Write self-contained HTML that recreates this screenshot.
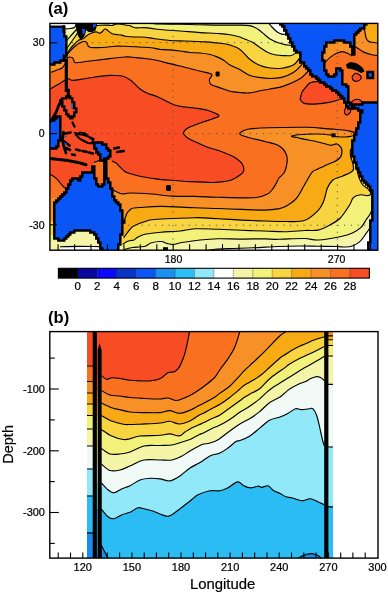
<!DOCTYPE html><html><head><meta charset="utf-8"><style>html,body{margin:0;padding:0;background:#fff;}svg{display:block;will-change:transform;}</style></head><body>
<svg width="388" height="592" viewBox="0 0 388 592">
<rect width="388" height="592" fill="#fff"/>
<defs><clipPath id="ca"><rect x="49.9" y="23.4" width="327.90000000000003" height="226.79999999999998"/></clipPath>
<clipPath id="cb"><rect x="87" y="331.6" width="246" height="226.5"/></clipPath></defs>
<g clip-path="url(#ca)">
<rect x="40" y="15" width="350" height="245" fill="#f5f5aa"/>
<path d="M266 15L268.5 23.2L268.5 23.2C269.1 23.8 270.8 25.7 272 27C273.2 28.3 274.7 29.9 276 31C277.3 32.1 278.7 33 280 33.6C281.3 34.2 282.8 34.5 284 34.4C285.2 34.3 286.5 33.2 287 33L292 30L292 15Z" fill="#ffffff"/>
<path d="M63 15L63 29L66 28.8C66.7 28.8 68.5 28.8 70 28.5C71.5 28.2 73.6 28.1 74.7 27.2C75.8 26.3 76.2 23.7 76.5 23L78 15Z" fill="#ffffff"/>
<path d="M205 251C206.7 250.7 210.9 249.7 215 249.3C219.1 248.9 223.5 248.8 229.8 248.6C236.1 248.3 245 248.2 253 247.8C261 247.5 270.2 246.8 278 246.5C285.8 246.2 293.3 246 300 246C306.7 246 311.9 246.2 318 246.3C324.1 246.4 332.1 246.4 336.6 246.5C341.1 246.6 342.4 247.1 345 247C347.6 246.9 349.9 246.9 352.4 246C354.9 245.1 357.5 243.8 359.8 241.7C362.1 239.6 364.4 235.8 366 233.6C367.6 231.4 368.7 229.8 369.5 228.5C370.3 227.2 370.8 226.4 371 226L380 227L380 256L205 256Z" fill="#ffffff"/>
<path d="M60 246.8C63.3 246.7 73.3 246.4 80 246.4C86.7 246.4 96.7 246.6 100 246.6L101 256L59 256Z" fill="#ffffff"/>
<path d="M45 50L58 50L66.5 41C66.8 40.7 67.1 40.1 68 39C68.9 37.9 70.7 36 72 34.5C73.3 33 74.9 31.2 76 30C77.1 28.8 77.8 28 78.5 27C79.2 26 79.6 25 80 24C80.4 23 80.8 21.5 81 21L82 15L150 15L150 23.2C151.7 23.3 155 23.8 160 24C165 24.2 173.3 24.2 180 24.3C186.7 24.4 193.3 24.7 200 24.8C206.7 24.9 213.3 25.1 220 25.1C226.7 25.2 235.1 25 240 25.1C244.9 25.2 246.9 25.2 249.4 25.6C251.9 26 253.4 26.8 255 27.5C256.6 28.2 257.4 28.8 259.1 30C260.8 31.2 263.2 33.5 265 35C266.8 36.5 267.6 37.6 270 39C272.4 40.4 276.5 42.2 279.7 43.2C282.9 44.2 287.2 45.1 289.4 45.3C291.6 45.5 292.4 44.6 293 44.5L300 40L310 15L386 15L386 205L372.5 208C372.1 209.1 371.1 212.3 370 214.3C368.9 216.3 367.5 217.8 366 220C364.5 222.2 363.3 225.2 361 227.4C358.7 229.6 355.9 231.4 352.4 233C348.9 234.6 345.7 235.5 340 236.7C334.3 237.9 323.9 239.7 318 240C312.1 240.3 311 238.6 304.3 238.5C297.6 238.4 284.6 239.2 278 239.3C271.4 239.4 270.7 238.8 264.6 238.8C258.5 238.8 249.1 239.1 241.4 239.1C233.7 239.1 225.1 238.7 218.2 238.8C211.3 239 206.1 239.4 200 240C193.9 240.6 186.3 241.8 181.9 242.5C177.5 243.2 176 244.2 173.6 244.4C171.2 244.6 169.5 244.1 167.4 243.6C165.3 243.1 163.9 241.6 161.2 241.5C158.4 241.4 153.4 242.2 150.9 243C148.4 243.8 147.7 245.4 146 246C144.3 246.6 142.9 246.6 140.6 246.8C138.3 247.1 134.8 247.1 132.4 247.5C130 247.9 127.4 248.5 126 249C124.6 249.5 124.3 250.2 124 250.5L118 240L110 228L62 228L58 241L45 241Z" fill="#f2f27a"/>
<path d="M45 60L66.5 49C66.8 48.5 67.6 47.3 68.5 46C69.4 44.7 70.8 42.7 72 41C73.2 39.3 74.4 37.6 75.5 36C76.6 34.4 77.6 32.8 78.7 31.5C79.8 30.2 80.8 29.2 82 28.5C83.2 27.8 84.3 27.3 86 27C87.7 26.7 90.3 26.7 92 26.5C93.7 26.3 94.7 26 96 25.8C97.3 25.6 98 25.3 100 25.2C102 25.1 105.8 25.1 107.7 25.1C109.6 25.2 110.3 25.6 111.6 25.5C112.9 25.4 114.2 24.6 115.5 24.3C116.8 24 117.7 23.8 119.3 23.9C120.9 24 123.2 24.7 125 25C126.8 25.3 128.3 25.3 130 25.8C131.7 26.3 132.5 27.5 135 27.8C137.5 28.1 141.7 27.4 145 27.6C148.3 27.8 151.7 28.6 155 29C158.3 29.4 160.8 29.7 165 30C169.2 30.3 174.2 30.6 180 31C185.8 31.4 193.3 32.2 200 32.6C206.7 33 215 33.2 220 33.6C225 34 227 34.3 230 34.8C233 35.3 235.7 35.9 238 36.5C240.3 37.1 241.7 37.8 244 38.7C246.3 39.6 249.3 40.5 252 42C254.7 43.5 257.3 45.8 260 47.5C262.7 49.2 265.3 51.2 268 52.5C270.7 53.8 273.3 54.5 276 55C278.7 55.5 281.4 55.5 284 55.6C286.6 55.7 289.5 55.9 291.4 55.5C293.3 55.1 294.8 53.4 295.5 53L300 45L312 15L386 15L386 150L360 150L354.5 158C354.9 159.9 356.3 166.5 357 169.7C357.7 172.9 358 174.7 358.9 177.2C359.8 179.7 361.1 182.6 362.6 184.6C364.2 186.6 366.8 187.6 368.2 189.2C369.6 190.8 371.2 192.8 371 193.9C370.8 195 368.9 195.5 367.2 195.7C365.5 195.8 363 194.5 360.7 194.8C358.4 195.1 355.1 195.9 353.3 197.6C351.5 199.3 351.8 201.6 349.6 205C347.4 208.4 343.7 214.6 340.3 218C336.9 221.4 332.8 223.5 329.1 225.5C325.4 227.5 322.1 229.3 318 230.1C313.9 230.9 309.8 230.2 304.3 230.5C298.8 230.8 291.6 231.6 285 231.7C278.4 231.8 271.9 231.2 264.6 231C257.3 230.8 249.1 230.6 241.4 230.3C233.7 230 225.9 229.6 218.2 229.3C210.5 229.1 201.4 228.5 195 228.8C188.6 229.1 185.6 230.4 180 231C174.4 231.6 166.9 231.7 161.2 232.2C155.5 232.7 149.9 233.2 146 234C142.1 234.8 140 236 138 237C136 238 135.2 239.4 134 240C132.8 240.6 132.1 240.2 131 240.5C129.9 240.8 128.7 240.9 127.3 241.5C125.9 242.1 123.4 243.8 122.6 244.3L110 225L60 225L55 235L45 235Z" fill="#f8d440"/>
<path d="M45 62L66.5 56C66.9 55.1 67.8 52.4 69 50.5C70.2 48.6 72.3 46.2 74 44.5C75.7 42.8 77.4 41 79 40C80.6 39 82.2 39.2 83.5 38.5C84.8 37.8 85.7 36.4 87 35.5C88.3 34.6 90.1 33.6 91.6 33C93.1 32.4 94.7 31.8 96 31.8C97.3 31.9 98.7 33.3 99.7 33.3C100.8 33.2 101.5 32.2 102.3 31.5C103.1 30.8 103.8 29.6 104.5 29.2C105.2 28.8 105.7 29 106.3 29.3C106.9 29.6 107.1 30.1 108 30.8C108.9 31.5 110.3 32.8 111.6 33.4C112.8 34 113.8 34.1 115.5 34.4C117.2 34.7 120 34.8 121.7 35.1C123.4 35.4 123.3 36 125.5 36.3C127.7 36.6 131.8 36.9 135 37C138.2 37.1 141.7 36.9 145 37.2C148.3 37.5 150.8 38.2 155 38.7C159.2 39.2 165 40.1 170 40.5C175 40.9 179.2 40.8 185 41C190.8 41.2 199.2 41.5 205 41.9C210.8 42.3 215.8 42.7 220 43.2C224.2 43.7 226.7 44 230 45C233.3 46 236.8 47.2 240 49.5C243.2 51.8 246.2 56.4 249.4 59C252.6 61.6 255.6 63.5 259 65C262.4 66.5 266.2 67.5 270 68C273.8 68.5 277.8 68.7 281.7 68.2C285.6 67.7 290.4 66.6 293.3 65C296.2 63.4 298.3 59.6 299.3 58.5L305 50L316 15L386 15L386 146L354.5 146C353.8 146.7 351.1 148.1 350.5 149.9C349.9 151.8 350.4 154.9 350.8 157.1C351.2 159.3 352.4 161.2 352.8 163.3C353.2 165.4 353.8 168 353.4 169.5C353 171 352.4 171.4 350.5 172.5C348.6 173.6 345.1 174.9 342.2 176.2C339.3 177.4 335.4 178 332.9 180C330.4 182 328.9 184.8 327.3 188.3C325.8 191.9 325.2 197.6 323.6 201.3C322.1 205 321.2 207.4 318 210.6C314.8 213.8 309.8 218.7 304.3 220.5C298.8 222.3 291.6 221.4 285 221.5C278.4 221.6 271.9 221.2 264.6 221C257.3 220.8 249.1 220.5 241.4 220.1C233.7 219.7 225.9 219.1 218.2 218.7C210.5 218.3 204.4 217.6 195 217.7C185.6 217.8 169 218.6 161.5 219C154 219.4 152.6 219.6 150 220C147.4 220.4 148 220.6 146 221.3C144 222 140 223.2 138 224C136 224.8 135 225.6 134 226.1C133 226.6 132.8 226.4 132 227.1C131.2 227.8 130.1 229.2 129.2 230.3C128.3 231.5 127.3 232.8 126.4 234C125.5 235.2 124.1 237.2 123.6 237.8L110 215L60 215L55 222L45 222Z" fill="#f8aa14"/>
<path d="M45 64L62.5 60C63.1 59.3 65.1 57.1 66 56C66.9 54.9 67 54.6 68 53.4C69 52.2 70.6 50.4 72 49C73.4 47.6 75 46.2 76.3 45.2C77.6 44.2 78.8 43.6 80 43C81.2 42.4 82.4 41.6 83.5 41.5C84.6 41.4 85.8 41.4 86.6 42.1C87.4 42.9 87.5 45.1 88.2 46C88.9 46.9 89.1 47.2 90.7 47.5C92.3 47.8 95.5 47.6 98 47.6C100.5 47.6 103.2 47.5 106 47.3C108.8 47.1 111.8 46.4 115 46.2C118.2 46 121.7 46.2 125 46.3C128.3 46.4 131.7 46.6 135 46.8C138.3 47 141.7 47 145 47.3C148.3 47.6 152.5 48 155 48.4C157.5 48.8 157.5 49.1 160 49.4C162.5 49.6 166.7 49.6 170 49.9C173.3 50.2 176.7 50.6 180 51C183.3 51.4 186.7 52.2 190 52.5C193.3 52.8 196.7 52.7 200 53C203.3 53.3 207.3 53.9 210 54.5C212.7 55.1 214.1 55.6 216.4 56.6C218.8 57.6 221.8 59.1 224.1 60.5C226.4 61.9 227.4 63.5 230 65C232.6 66.5 236.5 67.9 239.7 69.6C242.9 71.3 246.2 73.9 249.4 75.2C252.6 76.5 255.7 76.9 259.1 77.4C262.5 78 266.2 78.5 270 78.5C273.8 78.5 277.8 78.4 281.7 77.4C285.6 76.4 290.1 74.5 293.3 72.5C296.5 70.5 299.5 67.1 301 65.5C302.5 63.9 302.2 63.4 302.5 63L315 40L330 35L357 28L360 26C360.7 26.7 363.4 28.1 364.4 30C365.4 31.9 365.2 35.8 366 37.7C366.8 39.6 367 40.7 369 41.6C371 42.5 376.5 42.9 378 43.1L386 43L386 134.2L357 135.2C356.2 135.3 354 135.7 352 136C350 136.3 347.7 136.9 345 137C342.3 137.1 338.5 136.8 336 136.5C333.5 136.2 333 135.4 330 135C327 134.6 321.8 134.1 318 134C314.2 133.9 310.6 134.1 307.3 134.2C304 134.3 300.5 134.5 298 134.8C295.5 135.1 293.5 135.5 292.5 135.8C291.5 136.1 291.1 136.3 292 136.6C292.9 136.9 295.8 137.3 298 137.8C300.2 138.3 302.2 138.8 305 139.4C307.8 140 311.7 140.5 315 141.2C318.3 141.9 322.3 143.1 325 143.8C327.7 144.5 329.3 145.3 331.2 145.3C333.1 145.3 334.8 143.7 336.3 143.9C337.9 144.2 339.6 145.6 340.5 146.8C341.4 148 342 149.2 342 150.9C342 152.6 341.6 155.4 340.5 157.1C339.4 158.8 337.8 159.8 335.3 161.2C332.8 162.6 328.2 164.1 325.3 165.4C322.4 166.7 320.2 167.9 318 169C315.8 170.1 314.5 169.4 312.2 172.1C309.9 174.8 306.9 180.8 304.3 185.2C301.7 189.6 299.5 194.8 296.4 198.3C293.3 201.8 289 204.4 285.9 206.2C282.8 208 281.6 208.2 278 208.9C274.4 209.6 270.7 210 264.6 210.1C258.5 210.2 249.1 209.7 241.4 209.4C233.7 209.1 225.9 208.8 218.2 208.5C210.5 208.2 204.4 208.2 195 207.8C185.6 207.5 170.7 206.5 161.5 206.4C152.3 206.3 144.6 207.2 140 207.5C135.4 207.8 135.5 207.8 134 208C132.5 208.2 132.1 208.2 131 209C129.9 209.8 128.2 211.3 127.3 212.7C126.4 214.1 125.9 216.1 125.4 217.3C124.9 218.5 124.7 219.6 124.5 220L110 205L60 205L55 220L45 220Z" fill="#f89028"/>
<path d="M45 73L51 72.3C51.9 72 54.5 71 56.4 70.2C58.3 69.4 60.8 69.1 62.4 67.7C64 66.3 65 63.7 66 62C67 60.3 67 58.2 68.1 57.5C69.2 56.8 71.7 57.3 72.7 58C73.7 58.7 73.6 60.8 74.2 61.6C74.8 62.4 73.7 62.8 76.3 62.7C78.9 62.6 85 61.6 90 61C95 60.4 100.2 59.8 106 59.1C111.8 58.4 120.2 57.3 125 57C129.8 56.7 131.7 57.2 135 57.5C138.3 57.8 141.7 58.1 145 58.5C148.3 58.9 150.8 59.1 155 60C159.2 60.9 164.9 62.4 170 63.6C175.1 64.8 180.3 66.2 185.5 67.5C190.7 68.8 196.5 70.1 200.9 71.3C205.3 72.5 210.4 73 211.8 74.4C213.2 75.8 209.5 78.1 209.4 79.8C209.3 81.5 209.3 83.2 211 84.5C212.7 85.8 216.3 86.5 219.5 87.6C222.7 88.7 226.6 90.4 230 91.2C233.4 92 236.8 92.2 240 92.5C243.2 92.8 246.2 93.2 249.4 92.9C252.6 92.7 255.7 91.7 259.1 91C262.5 90.3 265.9 89.8 270 89C274.1 88.2 278.8 87.7 283.6 86.1C288.5 84.5 295.2 81.6 299.1 79.3C303 77 305.3 73.9 306.9 72.5C308.5 71.1 308.2 71.2 308.5 71L318 70L323 65C323.3 64.6 323.8 63.8 325 62.5C326.2 61.2 328.5 58.6 330.4 57.1C332.3 55.6 334.6 54.1 336.6 53.2C338.7 52.3 340.6 51.5 342.7 51.6C344.8 51.7 347.3 53.3 348.9 54C350.4 54.7 351.5 55.7 352 56L353 50L353.6 45.5C354.4 46 356.4 47.5 358.2 48.6C360 49.8 362.1 51.4 364.4 52.4C366.7 53.4 369.8 54.2 372.1 54.7C374.4 55.2 377 55.4 378 55.5L386 56L386 132.8L357 132.8C356.3 132.7 354.7 132.3 352.8 131.9C350.9 131.5 348.5 130.7 345.6 130.3C342.7 129.9 338.7 129.6 335.3 129.3C331.9 129 329.7 128.9 325 128.6C320.3 128.3 316.7 127.4 307.3 127.3C297.9 127.2 278.4 127.5 268.7 127.8C259 128.1 253.8 128.4 249.3 129C244.9 129.6 243.6 130.7 242 131.5C240.4 132.3 239.7 132.9 239.7 133.6C239.7 134.3 239.8 134.7 242 135.5C244.2 136.3 249.4 137.7 253.2 138.7C257 139.7 261.1 140.5 265 141.5C268.9 142.5 273.4 143.2 276.4 144.5C279.4 145.8 281.3 147.2 283 149C284.7 150.8 285.8 152.9 286.5 155C287.2 157.1 287.5 158.7 287.2 161.5C286.9 164.3 286 169.3 284.6 172.1C283.2 174.8 280.4 176.1 279 178C277.6 179.9 277.2 181.8 276 183.8C274.8 185.8 273.4 188.3 272 190C270.6 191.7 269.9 192.9 267.5 194.1C265.1 195.3 262 196.7 257.6 197.3C253.3 197.9 248 197.8 241.4 197.8C234.8 197.8 225.9 197.5 218.2 197.3C210.5 197.1 202.7 196.6 195 196.4C187.3 196.2 179.2 196.5 171.9 196.1C164.6 195.7 158.1 194.5 151.2 194C144.3 193.5 135.4 193 130.6 193C125.8 193 124.8 194.2 122.4 194C120 193.8 117.6 192.2 116 191.5C114.4 190.8 113.5 190.2 113 190L105 190L60 198L55 198L45 198Z" fill="#f87020"/>
<path d="M45 90L50.5 89C51.2 88.5 53.1 87.3 54.8 86.3C56.5 85.3 59.3 83.8 60.7 82.9C62.1 82.1 61.9 81.9 63.2 81.2C64.5 80.5 66.8 79 68.3 78.8C69.8 78.6 69.8 80.2 72 80.3C74.2 80.4 77.7 79.8 81.5 79.2C85.3 78.7 90.9 77.6 95 77C99.1 76.4 102.7 75.8 106 75.6C109.3 75.3 112.2 75.4 115 75.5C117.8 75.6 120.3 75.5 123 76.3C125.7 77.1 128.2 78.4 131 80.5C133.8 82.6 137.2 86.8 140 89C142.8 91.2 145 92.2 148 93.5C151 94.8 153.7 95.1 158 97C162.3 98.9 169.1 103.1 173.6 104.8C178.1 106.5 181.1 106.4 185 107C188.9 107.6 193.2 107.8 197 108.4C200.8 109 204.9 109.7 208 110.5C211.1 111.3 213.6 112.4 215.4 113.3C217.2 114.2 219.4 115.1 218.8 116.1C218.2 117 214.5 118 212 119C209.5 120 206.5 120.8 203.7 121.8C200.9 122.8 197.8 123.9 195 125C192.2 126.1 188.9 127.1 187 128.5C185.1 129.9 183.3 131.9 183.6 133.6C183.9 135.3 186.4 137.1 188.6 138.6C190.8 140.1 193.9 141.1 197 142.5C200.1 143.9 203.4 145.7 207 147C210.6 148.3 214.6 149.1 218.5 150.5C222.4 151.9 227.4 153.9 230.5 155.3C233.6 156.7 235.1 157.6 237 159C238.9 160.4 241 161.8 242.2 163.7C243.3 165.6 244.2 168.6 243.9 170.4C243.6 172.2 242.5 173.2 240.4 174.8C238.3 176.4 234.8 178.8 231.4 180C228 181.2 223.4 181.6 220 182C216.6 182.4 215.8 182.6 210.8 182.5C205.8 182.4 196 181.9 190 181.6C184 181.3 179.8 180.8 175 180.5C170.2 180.2 165.7 180 161.5 179.6C157.3 179.2 153.4 178.5 150 178C146.6 177.5 144.2 177.2 140.9 176.5C137.6 175.8 132.8 174.4 130 173.5C127.2 172.6 126.2 172.6 124.4 171.3C122.6 170.1 120.4 167.4 119 166C117.6 164.6 117.4 163.9 116.2 163.1C115 162.3 112.7 161.3 112 161L107 159L104.5 161L99 160.5L94 162.5L93 170L85 180L66 189L62.3 185.5L57.2 179.3L52 175.2L45 174.5Z" fill="#f84c24"/>
<path d="M300.1 99.3C300.4 98.1 301.1 94.1 302.1 92.1C303.1 90 304.6 88.5 306 87C307.4 85.5 308.3 83.7 310.4 82.8C312.5 81.9 315.5 81.3 318.6 81.8C321.7 82.3 326.2 84.6 328.9 85.9C331.6 87.2 333.3 88.3 335 89.5C336.7 90.7 338.1 91.6 339.2 93.1C340.2 94.6 342 97 341.3 98.3C340.6 99.6 337.1 100.3 335 101C332.9 101.7 332.3 101.9 328.9 102.4C325.5 102.9 318.6 103.9 314.5 104.1C310.4 104.3 306.6 104.2 304.2 103.4C301.8 102.6 300.8 100 300.1 99.3Z" fill="#f84c24"/>
<path d="M352 77C352.5 76.4 353.8 73.9 355 73.5C356.2 73.1 357.9 73.8 359 74.5C360.1 75.2 361.5 76.9 361.3 78C361.1 79.1 359.3 80.6 358 81C356.7 81.4 354.5 81.2 353.5 80.5C352.5 79.8 352.2 77.6 352 77Z" fill="#f84c24"/>
<path d="M351.6 102C352.2 101.6 353.6 99.8 355 99.5C356.4 99.2 358.8 99.3 360 100C361.2 100.7 362.3 102.4 362 103.5C361.7 104.6 359.5 106.1 358 106.5C356.5 106.9 354.1 106.8 353 106C351.9 105.2 351.8 102.7 351.6 102Z" fill="#f84c24"/>
<path d="M344.4 110.5C344.8 109.9 345.6 107.3 346.5 106.8C347.4 106.3 349.3 106.7 350 107.5C350.7 108.3 351 110.3 350.6 111.5C350.2 112.7 348.4 114.4 347.5 114.8C346.6 115.2 345.5 114.7 345 114C344.5 113.3 344.5 111.1 344.4 110.5Z" fill="#f84c24"/>
<g fill="none" stroke="#000" stroke-width="1.15" stroke-linejoin="round">
<path d="M104.5 161L99 160.5L94 162.5"/>
<path d="M49 174.5C49.5 174.6 50.6 174.4 52 175.2C53.4 176 55.5 177.6 57.2 179.3C58.9 181 60.8 183.9 62.3 185.5C63.8 187.1 65.4 188.4 66 189"/>
<path d="M268.5 23.2C269.1 23.8 270.8 25.7 272 27C273.2 28.3 274.7 29.9 276 31C277.3 32.1 278.7 33 280 33.6C281.3 34.2 282.8 34.5 284 34.4C285.2 34.3 286.5 33.2 287 33"/>
<path d="M66 28.8C66.7 28.8 68.5 28.8 70 28.5C71.5 28.2 73.6 28.1 74.7 27.2C75.8 26.3 76.2 23.7 76.5 23"/>
<path d="M205 251C206.7 250.7 210.9 249.7 215 249.3C219.1 248.9 223.5 248.8 229.8 248.6C236.1 248.3 245 248.2 253 247.8C261 247.5 270.2 246.8 278 246.5C285.8 246.2 293.3 246 300 246C306.7 246 311.9 246.2 318 246.3C324.1 246.4 332.1 246.4 336.6 246.5C341.1 246.6 342.4 247.1 345 247C347.6 246.9 349.9 246.9 352.4 246C354.9 245.1 357.5 243.8 359.8 241.7C362.1 239.6 364.4 235.8 366 233.6C367.6 231.4 368.7 229.8 369.5 228.5C370.3 227.2 370.8 226.4 371 226"/>
<path d="M60 246.8C63.3 246.7 73.3 246.4 80 246.4C86.7 246.4 96.7 246.6 100 246.6"/>
<path d="M66.5 41C66.8 40.7 67.1 40.1 68 39C68.9 37.9 70.7 36 72 34.5C73.3 33 74.9 31.2 76 30C77.1 28.8 77.8 28 78.5 27C79.2 26 79.6 25 80 24C80.4 23 80.8 21.5 81 21"/>
<path d="M150 23.2C151.7 23.3 155 23.8 160 24C165 24.2 173.3 24.2 180 24.3C186.7 24.4 193.3 24.7 200 24.8C206.7 24.9 213.3 25.1 220 25.1C226.7 25.2 235.1 25 240 25.1C244.9 25.2 246.9 25.2 249.4 25.6C251.9 26 253.4 26.8 255 27.5C256.6 28.2 257.4 28.8 259.1 30C260.8 31.2 263.2 33.5 265 35C266.8 36.5 267.6 37.6 270 39C272.4 40.4 276.5 42.2 279.7 43.2C282.9 44.2 287.2 45.1 289.4 45.3C291.6 45.5 292.4 44.6 293 44.5"/>
<path d="M372.5 208C372.1 209.1 371.1 212.3 370 214.3C368.9 216.3 367.5 217.8 366 220C364.5 222.2 363.3 225.2 361 227.4C358.7 229.6 355.9 231.4 352.4 233C348.9 234.6 345.7 235.5 340 236.7C334.3 237.9 323.9 239.7 318 240C312.1 240.3 311 238.6 304.3 238.5C297.6 238.4 284.6 239.2 278 239.3C271.4 239.4 270.7 238.8 264.6 238.8C258.5 238.8 249.1 239.1 241.4 239.1C233.7 239.1 225.1 238.7 218.2 238.8C211.3 239 206.1 239.4 200 240C193.9 240.6 186.3 241.8 181.9 242.5C177.5 243.2 176 244.2 173.6 244.4C171.2 244.6 169.5 244.1 167.4 243.6C165.3 243.1 163.9 241.6 161.2 241.5C158.4 241.4 153.4 242.2 150.9 243C148.4 243.8 147.7 245.4 146 246C144.3 246.6 142.9 246.6 140.6 246.8C138.3 247.1 134.8 247.1 132.4 247.5C130 247.9 127.4 248.5 126 249C124.6 249.5 124.3 250.2 124 250.5"/>
<path d="M66.5 49C66.8 48.5 67.6 47.3 68.5 46C69.4 44.7 70.8 42.7 72 41C73.2 39.3 74.4 37.6 75.5 36C76.6 34.4 77.6 32.8 78.7 31.5C79.8 30.2 80.8 29.2 82 28.5C83.2 27.8 84.3 27.3 86 27C87.7 26.7 90.3 26.7 92 26.5C93.7 26.3 94.7 26 96 25.8C97.3 25.6 98 25.3 100 25.2C102 25.1 105.8 25.1 107.7 25.1C109.6 25.2 110.3 25.6 111.6 25.5C112.9 25.4 114.2 24.6 115.5 24.3C116.8 24 117.7 23.8 119.3 23.9C120.9 24 123.2 24.7 125 25C126.8 25.3 128.3 25.3 130 25.8C131.7 26.3 132.5 27.5 135 27.8C137.5 28.1 141.7 27.4 145 27.6C148.3 27.8 151.7 28.6 155 29C158.3 29.4 160.8 29.7 165 30C169.2 30.3 174.2 30.6 180 31C185.8 31.4 193.3 32.2 200 32.6C206.7 33 215 33.2 220 33.6C225 34 227 34.3 230 34.8C233 35.3 235.7 35.9 238 36.5C240.3 37.1 241.7 37.8 244 38.7C246.3 39.6 249.3 40.5 252 42C254.7 43.5 257.3 45.8 260 47.5C262.7 49.2 265.3 51.2 268 52.5C270.7 53.8 273.3 54.5 276 55C278.7 55.5 281.4 55.5 284 55.6C286.6 55.7 289.5 55.9 291.4 55.5C293.3 55.1 294.8 53.4 295.5 53"/>
<path d="M354.5 158C354.9 159.9 356.3 166.5 357 169.7C357.7 172.9 358 174.7 358.9 177.2C359.8 179.7 361.1 182.6 362.6 184.6C364.2 186.6 366.8 187.6 368.2 189.2C369.6 190.8 371.2 192.8 371 193.9C370.8 195 368.9 195.5 367.2 195.7C365.5 195.8 363 194.5 360.7 194.8C358.4 195.1 355.1 195.9 353.3 197.6C351.5 199.3 351.8 201.6 349.6 205C347.4 208.4 343.7 214.6 340.3 218C336.9 221.4 332.8 223.5 329.1 225.5C325.4 227.5 322.1 229.3 318 230.1C313.9 230.9 309.8 230.2 304.3 230.5C298.8 230.8 291.6 231.6 285 231.7C278.4 231.8 271.9 231.2 264.6 231C257.3 230.8 249.1 230.6 241.4 230.3C233.7 230 225.9 229.6 218.2 229.3C210.5 229.1 201.4 228.5 195 228.8C188.6 229.1 185.6 230.4 180 231C174.4 231.6 166.9 231.7 161.2 232.2C155.5 232.7 149.9 233.2 146 234C142.1 234.8 140 236 138 237C136 238 135.2 239.4 134 240C132.8 240.6 132.1 240.2 131 240.5C129.9 240.8 128.7 240.9 127.3 241.5C125.9 242.1 123.4 243.8 122.6 244.3"/>
<path d="M66.5 56C66.9 55.1 67.8 52.4 69 50.5C70.2 48.6 72.3 46.2 74 44.5C75.7 42.8 77.4 41 79 40C80.6 39 82.2 39.2 83.5 38.5C84.8 37.8 85.7 36.4 87 35.5C88.3 34.6 90.1 33.6 91.6 33C93.1 32.4 94.7 31.8 96 31.8C97.3 31.9 98.7 33.3 99.7 33.3C100.8 33.2 101.5 32.2 102.3 31.5C103.1 30.8 103.8 29.6 104.5 29.2C105.2 28.8 105.7 29 106.3 29.3C106.9 29.6 107.1 30.1 108 30.8C108.9 31.5 110.3 32.8 111.6 33.4C112.8 34 113.8 34.1 115.5 34.4C117.2 34.7 120 34.8 121.7 35.1C123.4 35.4 123.3 36 125.5 36.3C127.7 36.6 131.8 36.9 135 37C138.2 37.1 141.7 36.9 145 37.2C148.3 37.5 150.8 38.2 155 38.7C159.2 39.2 165 40.1 170 40.5C175 40.9 179.2 40.8 185 41C190.8 41.2 199.2 41.5 205 41.9C210.8 42.3 215.8 42.7 220 43.2C224.2 43.7 226.7 44 230 45C233.3 46 236.8 47.2 240 49.5C243.2 51.8 246.2 56.4 249.4 59C252.6 61.6 255.6 63.5 259 65C262.4 66.5 266.2 67.5 270 68C273.8 68.5 277.8 68.7 281.7 68.2C285.6 67.7 290.4 66.6 293.3 65C296.2 63.4 298.3 59.6 299.3 58.5"/>
<path d="M354.5 146C353.8 146.7 351.1 148.1 350.5 149.9C349.9 151.8 350.4 154.9 350.8 157.1C351.2 159.3 352.4 161.2 352.8 163.3C353.2 165.4 353.8 168 353.4 169.5C353 171 352.4 171.4 350.5 172.5C348.6 173.6 345.1 174.9 342.2 176.2C339.3 177.4 335.4 178 332.9 180C330.4 182 328.9 184.8 327.3 188.3C325.8 191.9 325.2 197.6 323.6 201.3C322.1 205 321.2 207.4 318 210.6C314.8 213.8 309.8 218.7 304.3 220.5C298.8 222.3 291.6 221.4 285 221.5C278.4 221.6 271.9 221.2 264.6 221C257.3 220.8 249.1 220.5 241.4 220.1C233.7 219.7 225.9 219.1 218.2 218.7C210.5 218.3 204.4 217.6 195 217.7C185.6 217.8 169 218.6 161.5 219C154 219.4 152.6 219.6 150 220C147.4 220.4 148 220.6 146 221.3C144 222 140 223.2 138 224C136 224.8 135 225.6 134 226.1C133 226.6 132.8 226.4 132 227.1C131.2 227.8 130.1 229.2 129.2 230.3C128.3 231.5 127.3 232.8 126.4 234C125.5 235.2 124.1 237.2 123.6 237.8"/>
<path d="M62.5 60C63.1 59.3 65.1 57.1 66 56C66.9 54.9 67 54.6 68 53.4C69 52.2 70.6 50.4 72 49C73.4 47.6 75 46.2 76.3 45.2C77.6 44.2 78.8 43.6 80 43C81.2 42.4 82.4 41.6 83.5 41.5C84.6 41.4 85.8 41.4 86.6 42.1C87.4 42.9 87.5 45.1 88.2 46C88.9 46.9 89.1 47.2 90.7 47.5C92.3 47.8 95.5 47.6 98 47.6C100.5 47.6 103.2 47.5 106 47.3C108.8 47.1 111.8 46.4 115 46.2C118.2 46 121.7 46.2 125 46.3C128.3 46.4 131.7 46.6 135 46.8C138.3 47 141.7 47 145 47.3C148.3 47.6 152.5 48 155 48.4C157.5 48.8 157.5 49.1 160 49.4C162.5 49.6 166.7 49.6 170 49.9C173.3 50.2 176.7 50.6 180 51C183.3 51.4 186.7 52.2 190 52.5C193.3 52.8 196.7 52.7 200 53C203.3 53.3 207.3 53.9 210 54.5C212.7 55.1 214.1 55.6 216.4 56.6C218.8 57.6 221.8 59.1 224.1 60.5C226.4 61.9 227.4 63.5 230 65C232.6 66.5 236.5 67.9 239.7 69.6C242.9 71.3 246.2 73.9 249.4 75.2C252.6 76.5 255.7 76.9 259.1 77.4C262.5 78 266.2 78.5 270 78.5C273.8 78.5 277.8 78.4 281.7 77.4C285.6 76.4 290.1 74.5 293.3 72.5C296.5 70.5 299.5 67.1 301 65.5C302.5 63.9 302.2 63.4 302.5 63"/>
<path d="M360 26C360.7 26.7 363.4 28.1 364.4 30C365.4 31.9 365.2 35.8 366 37.7C366.8 39.6 367 40.7 369 41.6C371 42.5 376.5 42.9 378 43.1"/>
<path d="M357 135.2C356.2 135.3 354 135.7 352 136C350 136.3 347.7 136.9 345 137C342.3 137.1 338.5 136.8 336 136.5C333.5 136.2 333 135.4 330 135C327 134.6 321.8 134.1 318 134C314.2 133.9 310.6 134.1 307.3 134.2C304 134.3 300.5 134.5 298 134.8C295.5 135.1 293.5 135.5 292.5 135.8C291.5 136.1 291.1 136.3 292 136.6C292.9 136.9 295.8 137.3 298 137.8C300.2 138.3 302.2 138.8 305 139.4C307.8 140 311.7 140.5 315 141.2C318.3 141.9 322.3 143.1 325 143.8C327.7 144.5 329.3 145.3 331.2 145.3C333.1 145.3 334.8 143.7 336.3 143.9C337.9 144.2 339.6 145.6 340.5 146.8C341.4 148 342 149.2 342 150.9C342 152.6 341.6 155.4 340.5 157.1C339.4 158.8 337.8 159.8 335.3 161.2C332.8 162.6 328.2 164.1 325.3 165.4C322.4 166.7 320.2 167.9 318 169C315.8 170.1 314.5 169.4 312.2 172.1C309.9 174.8 306.9 180.8 304.3 185.2C301.7 189.6 299.5 194.8 296.4 198.3C293.3 201.8 289 204.4 285.9 206.2C282.8 208 281.6 208.2 278 208.9C274.4 209.6 270.7 210 264.6 210.1C258.5 210.2 249.1 209.7 241.4 209.4C233.7 209.1 225.9 208.8 218.2 208.5C210.5 208.2 204.4 208.2 195 207.8C185.6 207.5 170.7 206.5 161.5 206.4C152.3 206.3 144.6 207.2 140 207.5C135.4 207.8 135.5 207.8 134 208C132.5 208.2 132.1 208.2 131 209C129.9 209.8 128.2 211.3 127.3 212.7C126.4 214.1 125.9 216.1 125.4 217.3C124.9 218.5 124.7 219.6 124.5 220"/>
<path d="M51 72.3C51.9 72 54.5 71 56.4 70.2C58.3 69.4 60.8 69.1 62.4 67.7C64 66.3 65 63.7 66 62C67 60.3 67 58.2 68.1 57.5C69.2 56.8 71.7 57.3 72.7 58C73.7 58.7 73.6 60.8 74.2 61.6C74.8 62.4 73.7 62.8 76.3 62.7C78.9 62.6 85 61.6 90 61C95 60.4 100.2 59.8 106 59.1C111.8 58.4 120.2 57.3 125 57C129.8 56.7 131.7 57.2 135 57.5C138.3 57.8 141.7 58.1 145 58.5C148.3 58.9 150.8 59.1 155 60C159.2 60.9 164.9 62.4 170 63.6C175.1 64.8 180.3 66.2 185.5 67.5C190.7 68.8 196.5 70.1 200.9 71.3C205.3 72.5 210.4 73 211.8 74.4C213.2 75.8 209.5 78.1 209.4 79.8C209.3 81.5 209.3 83.2 211 84.5C212.7 85.8 216.3 86.5 219.5 87.6C222.7 88.7 226.6 90.4 230 91.2C233.4 92 236.8 92.2 240 92.5C243.2 92.8 246.2 93.2 249.4 92.9C252.6 92.7 255.7 91.7 259.1 91C262.5 90.3 265.9 89.8 270 89C274.1 88.2 278.8 87.7 283.6 86.1C288.5 84.5 295.2 81.6 299.1 79.3C303 77 305.3 73.9 306.9 72.5C308.5 71.1 308.2 71.2 308.5 71"/>
<path d="M323 65C323.3 64.6 323.8 63.8 325 62.5C326.2 61.2 328.5 58.6 330.4 57.1C332.3 55.6 334.6 54.1 336.6 53.2C338.7 52.3 340.6 51.5 342.7 51.6C344.8 51.7 347.3 53.3 348.9 54C350.4 54.7 351.5 55.7 352 56"/>
<path d="M353.6 45.5C354.4 46 356.4 47.5 358.2 48.6C360 49.8 362.1 51.4 364.4 52.4C366.7 53.4 369.8 54.2 372.1 54.7C374.4 55.2 377 55.4 378 55.5"/>
<path d="M357 132.8C356.3 132.7 354.7 132.3 352.8 131.9C350.9 131.5 348.5 130.7 345.6 130.3C342.7 129.9 338.7 129.6 335.3 129.3C331.9 129 329.7 128.9 325 128.6C320.3 128.3 316.7 127.4 307.3 127.3C297.9 127.2 278.4 127.5 268.7 127.8C259 128.1 253.8 128.4 249.3 129C244.9 129.6 243.6 130.7 242 131.5C240.4 132.3 239.7 132.9 239.7 133.6C239.7 134.3 239.8 134.7 242 135.5C244.2 136.3 249.4 137.7 253.2 138.7C257 139.7 261.1 140.5 265 141.5C268.9 142.5 273.4 143.2 276.4 144.5C279.4 145.8 281.3 147.2 283 149C284.7 150.8 285.8 152.9 286.5 155C287.2 157.1 287.5 158.7 287.2 161.5C286.9 164.3 286 169.3 284.6 172.1C283.2 174.8 280.4 176.1 279 178C277.6 179.9 277.2 181.8 276 183.8C274.8 185.8 273.4 188.3 272 190C270.6 191.7 269.9 192.9 267.5 194.1C265.1 195.3 262 196.7 257.6 197.3C253.3 197.9 248 197.8 241.4 197.8C234.8 197.8 225.9 197.5 218.2 197.3C210.5 197.1 202.7 196.6 195 196.4C187.3 196.2 179.2 196.5 171.9 196.1C164.6 195.7 158.1 194.5 151.2 194C144.3 193.5 135.4 193 130.6 193C125.8 193 124.8 194.2 122.4 194C120 193.8 117.6 192.2 116 191.5C114.4 190.8 113.5 190.2 113 190"/>
<path d="M50.5 89C51.2 88.5 53.1 87.3 54.8 86.3C56.5 85.3 59.3 83.8 60.7 82.9C62.1 82.1 61.9 81.9 63.2 81.2C64.5 80.5 66.8 79 68.3 78.8C69.8 78.6 69.8 80.2 72 80.3C74.2 80.4 77.7 79.8 81.5 79.2C85.3 78.7 90.9 77.6 95 77C99.1 76.4 102.7 75.8 106 75.6C109.3 75.3 112.2 75.4 115 75.5C117.8 75.6 120.3 75.5 123 76.3C125.7 77.1 128.2 78.4 131 80.5C133.8 82.6 137.2 86.8 140 89C142.8 91.2 145 92.2 148 93.5C151 94.8 153.7 95.1 158 97C162.3 98.9 169.1 103.1 173.6 104.8C178.1 106.5 181.1 106.4 185 107C188.9 107.6 193.2 107.8 197 108.4C200.8 109 204.9 109.7 208 110.5C211.1 111.3 213.6 112.4 215.4 113.3C217.2 114.2 219.4 115.1 218.8 116.1C218.2 117 214.5 118 212 119C209.5 120 206.5 120.8 203.7 121.8C200.9 122.8 197.8 123.9 195 125C192.2 126.1 188.9 127.1 187 128.5C185.1 129.9 183.3 131.9 183.6 133.6C183.9 135.3 186.4 137.1 188.6 138.6C190.8 140.1 193.9 141.1 197 142.5C200.1 143.9 203.4 145.7 207 147C210.6 148.3 214.6 149.1 218.5 150.5C222.4 151.9 227.4 153.9 230.5 155.3C233.6 156.7 235.1 157.6 237 159C238.9 160.4 241 161.8 242.2 163.7C243.3 165.6 244.2 168.6 243.9 170.4C243.6 172.2 242.5 173.2 240.4 174.8C238.3 176.4 234.8 178.8 231.4 180C228 181.2 223.4 181.6 220 182C216.6 182.4 215.8 182.6 210.8 182.5C205.8 182.4 196 181.9 190 181.6C184 181.3 179.8 180.8 175 180.5C170.2 180.2 165.7 180 161.5 179.6C157.3 179.2 153.4 178.5 150 178C146.6 177.5 144.2 177.2 140.9 176.5C137.6 175.8 132.8 174.4 130 173.5C127.2 172.6 126.2 172.6 124.4 171.3C122.6 170.1 120.4 167.4 119 166C117.6 164.6 117.4 163.9 116.2 163.1C115 162.3 112.7 161.3 112 161"/>
<path d="M300.1 99.3C300.4 98.1 301.1 94.1 302.1 92.1C303.1 90 304.6 88.5 306 87C307.4 85.5 308.3 83.7 310.4 82.8C312.5 81.9 315.5 81.3 318.6 81.8C321.7 82.3 326.2 84.6 328.9 85.9C331.6 87.2 333.3 88.3 335 89.5C336.7 90.7 338.1 91.6 339.2 93.1C340.2 94.6 342 97 341.3 98.3C340.6 99.6 337.1 100.3 335 101C332.9 101.7 332.3 101.9 328.9 102.4C325.5 102.9 318.6 103.9 314.5 104.1C310.4 104.3 306.6 104.2 304.2 103.4C301.8 102.6 300.8 100 300.1 99.3"/>
<path d="M352 77C352.5 76.4 353.8 73.9 355 73.5C356.2 73.1 357.9 73.8 359 74.5C360.1 75.2 361.5 76.9 361.3 78C361.1 79.1 359.3 80.6 358 81C356.7 81.4 354.5 81.2 353.5 80.5C352.5 79.8 352.2 77.6 352 77"/>
<path d="M351.6 102C352.2 101.6 353.6 99.8 355 99.5C356.4 99.2 358.8 99.3 360 100C361.2 100.7 362.3 102.4 362 103.5C361.7 104.6 359.5 106.1 358 106.5C356.5 106.9 354.1 106.8 353 106C351.9 105.2 351.8 102.7 351.6 102"/>
<path d="M344.4 110.5C344.8 109.9 345.6 107.3 346.5 106.8C347.4 106.3 349.3 106.7 350 107.5C350.7 108.3 351 110.3 350.6 111.5C350.2 112.7 348.4 114.4 347.5 114.8C346.6 115.2 345.5 114.7 345 114C344.5 113.3 344.5 111.1 344.4 110.5"/>
</g>
<g fill="#0a55f5" stroke="#000" stroke-width="2.5" stroke-linejoin="miter">
<path d="M44.3 26.4L64.3 26.4L64.3 36.4L66.3 36.4L66.3 56.4L64.3 56.4L64.3 60.4L60.3 60.4L60.3 62.4L54.3 62.4L54.3 64.4L44.3 64.4L44.3 26.4Z"/>
<path d="M44.3 120.4L54.3 120.4L54.3 118.4L56.3 118.4L56.3 116.4L60.3 116.4L60.3 140.4L58.3 140.4L58.3 146.4L56.3 146.4L56.3 148.4L44.3 148.4L44.3 120.4Z"/>
<path d="M54.3 202.4L56.3 202.4L56.3 200.4L58.3 200.4L58.3 198.4L60.3 198.4L60.3 196.4L62.3 196.4L62.3 194.4L64.3 194.4L64.3 192.4L66.3 192.4L66.3 188.4L68.3 188.4L68.3 184.4L70.3 184.4L70.3 180.4L72.3 180.4L72.3 178.4L78.3 178.4L78.3 180.4L80.3 180.4L80.3 176.4L82.3 176.4L82.3 172.4L92.3 172.4L92.3 166.4L94.3 166.4L94.3 178.4L96.3 178.4L96.3 184.4L98.3 184.4L98.3 186.4L102.3 186.4L102.3 184.4L104.3 184.4L104.3 160.4L106.3 160.4L106.3 178.4L108.3 178.4L108.3 182.4L110.3 182.4L110.3 188.4L112.3 188.4L112.3 196.4L114.3 196.4L114.3 200.4L116.3 200.4L116.3 202.4L118.3 202.4L118.3 204.4L120.3 204.4L120.3 210.4L122.3 210.4L122.3 220.4L124.3 220.4L124.3 222.4L122.3 222.4L122.3 234.4L120.3 234.4L120.3 244.4L118.3 244.4L118.3 256.4L102.3 256.4L102.3 248.4L100.3 248.4L100.3 242.4L98.3 242.4L98.3 238.4L96.3 238.4L96.3 234.4L94.3 234.4L94.3 232.4L90.3 232.4L90.3 230.4L74.3 230.4L74.3 232.4L70.3 232.4L70.3 234.4L68.3 234.4L68.3 236.4L66.3 236.4L66.3 238.4L64.3 238.4L64.3 240.4L58.3 240.4L58.3 238.4L54.3 238.4L54.3 202.4Z"/>
<path d="M96.3 142.4L100.3 142.4L102.3 142.4L102.3 144.4L106.3 144.4L106.3 148.4L108.3 148.4L108.3 150.4L110.3 150.4L110.3 154.4L110.3 156.4L108.3 156.4L108.3 158.4L104.3 158.4L104.3 160.4L100.3 160.4L100.3 154.4L98.3 154.4L98.3 152.4L96.3 152.4L96.3 148.4L94.3 148.4L94.3 146.4L94.3 142.4L96.3 142.4Z"/>
<path d="M278.3 16.4L280.3 16.4L280.3 24.4L282.3 24.4L282.3 26.4L284.3 26.4L284.3 30.4L286.3 30.4L286.3 34.4L288.3 34.4L288.3 38.4L290.3 38.4L290.3 42.4L292.3 42.4L292.3 46.4L294.3 46.4L294.3 50.4L296.3 50.4L296.3 52.4L300.3 52.4L300.3 54.4L300.3 62.4L304.3 62.4L304.3 66.4L306.3 66.4L306.3 68.4L308.3 68.4L308.3 70.4L310.3 70.4L310.3 74.4L312.3 74.4L312.3 76.4L316.3 76.4L316.3 78.4L318.3 78.4L318.3 80.4L320.3 80.4L320.3 82.4L324.3 82.4L324.3 84.4L326.3 84.4L326.3 86.4L330.3 86.4L330.3 88.4L332.3 88.4L332.3 90.4L336.3 90.4L336.3 92.4L338.3 92.4L338.3 94.4L340.3 94.4L340.3 96.4L342.3 96.4L342.3 98.4L344.3 98.4L344.3 102.4L346.3 102.4L346.3 106.4L348.3 106.4L348.3 108.4L352.3 108.4L352.3 104.4L350.3 104.4L350.3 102.4L348.3 102.4L348.3 86.4L346.3 86.4L346.3 84.4L342.3 84.4L342.3 82.4L342.3 70.4L340.3 70.4L340.3 68.4L336.3 68.4L336.3 74.4L334.3 74.4L334.3 76.4L328.3 76.4L328.3 74.4L326.3 74.4L326.3 70.4L324.3 70.4L324.3 60.4L322.3 60.4L322.3 52.4L324.3 52.4L324.3 46.4L326.3 46.4L326.3 42.4L334.3 42.4L334.3 40.4L344.3 40.4L344.3 42.4L350.3 42.4L350.3 46.4L352.3 46.4L352.3 54.4L354.3 54.4L354.3 34.4L356.3 34.4L356.3 32.4L358.3 32.4L358.3 30.4L360.3 30.4L360.3 28.4L364.3 28.4L364.3 24.4L366.3 24.4L366.3 18.4L368.3 18.4L368.3 16.4L278.3 16.4Z"/>
<path d="M352.3 108.4L352.3 106.4L354.3 106.4L354.3 104.4L362.3 104.4L362.3 102.4L386.3 102.4L386.3 256.4L368.3 256.4L368.3 242.4L370.3 242.4L370.3 220.4L372.3 220.4L372.3 190.4L370.3 190.4L370.3 186.4L368.3 186.4L368.3 184.4L366.3 184.4L366.3 182.4L364.3 182.4L364.3 180.4L362.3 180.4L362.3 176.4L360.3 176.4L360.3 172.4L358.3 172.4L358.3 168.4L356.3 168.4L356.3 162.4L354.3 162.4L354.3 156.4L352.3 156.4L352.3 140.4L354.3 140.4L354.3 134.4L356.3 134.4L356.3 128.4L358.3 128.4L358.3 122.4L360.3 122.4L360.3 112.4L362.3 112.4L362.3 110.4L358.3 110.4L358.3 108.4L352.3 108.4Z"/>
<path d="M367.5 72L373 72L373 78L367.5 78Z"/>
</g>
<rect x="49" y="22" width="18" height="3.4" fill="#ffffff"/>
<path d="M63.6 25.3L63.8 33" stroke="#000" stroke-width="2.8" fill="none"/>
<path d="M76 135L80 132.5L85 133.5L89 137L93 140L92 143.5L88 143L84 141L80 139Z" fill="none" stroke="#000" stroke-width="2"/>
<path d="M75.5 23.5L86 23.5L86.5 28L85.5 33L84 37L81.5 39.5L79 38L77 33L76 28Z" fill="#000"/><path d="M85.5 23.5L97 23.5L96.5 27L95.5 30.5L92.5 32L88.5 32L86 30Z" fill="#000"/>
<path d="M82 29L85 29L84.5 34L82.5 34Z" fill="#0a55f5"/><path d="M93 24L96.3 24L95.3 27L93 27.5Z" fill="#0a55f5"/>
<path d="M346 64.5L350 62L356 63L360 65.5L363 68L364.5 71.5L361 73L357 70.8L352 69.2L347 68.2Z" fill="#000"/>
<path d="M64.3 54.4L64.3 60.4L66.3 60.4L66.3 90.4L68.3 90.4L68.3 98.4" fill="none" stroke="#000" stroke-width="3.2"/>
<path d="M62.3 98.4L66.3 98.4L66.3 96.4L70.3 96.4L70.3 98.4L72.3 98.4L72.3 102.4L74.3 102.4L74.3 108.4L76.3 108.4L76.3 112.4L74.3 112.4L74.3 116.4L72.3 116.4L72.3 118.4L70.3 118.4L70.3 116.4L68.3 116.4L68.3 114.4L66.3 114.4L66.3 110.4L64.3 110.4L64.3 106.4L62.3 106.4L62.3 102.4L60.3 102.4L60.3 100.4L62.3 100.4L62.3 98.4Z" fill="none" stroke="#000" stroke-width="2.4"/><path d="M71.3 104L72.8 104L73 109L71.5 109Z" fill="#0a55f5"/>
<g fill="none" stroke="#000" stroke-width="2.3" stroke-linecap="round" stroke-linejoin="round">
<path d="M61.5 100L58.5 106L56 112.5L53 117.5L50 122" stroke-width="2.8"/>
<path d="M63.5 132L62.3 140L64 147L66 153M63.5 134L70.5 132.5M63.5 141L69.5 145.5M66 148L70 150" stroke-width="2.7"/>
<path d="M64.5 137L66 136.5M64.8 143L66.5 144" stroke="#0a55f5" stroke-width="1.2"/>
<path d="M50 158.5L57 159.3M59 159.5L68 160.5M70 161L78 162.5M80 163L86 164.8" stroke-width="3"/>
<path d="M76 149.5L80 150.5M82.5 151L87 152M89 152.5L93 153.5M72 154.5L75 155" stroke-width="2.4"/>
<path d="M72.5 122.5L74.5 126.5M75 133L80 134.5M82 134.5L87 136M89 137L93.5 139M114 148.5L119 147.5M117 152L124 151"/>
</g>
<rect x="215.6" y="71.5" width="4" height="5" rx="1" fill="#000"/>
<rect x="166" y="185" width="5" height="6" rx="1.5" fill="#000"/>
<rect x="331.5" y="133.3" width="4" height="4" fill="#000"/>
<rect x="163" y="247.2" width="5" height="3" fill="#000"/>
</g>
<g stroke="#444" stroke-width="1" stroke-dasharray="1 5.75" fill="none">
<path d="M51.7 42.6H376"/>
<path d="M53.85 133.6H376"/>
<path d="M53.85 225.2H376"/>
<path d="M173.0 29.3V249"/>
<path d="M337.3 29.3V249"/>
</g>
<rect x="49.9" y="23.4" width="327.90000000000003" height="226.79999999999998" fill="none" stroke="#000" stroke-width="1.4"/>
<g stroke="#000" stroke-width="1.1">
<path d="M173.2 250.2V244.2"/>
<path d="M156.8 250.2V244.2"/>
<path d="M140.3 250.2V244.2"/>
<path d="M123.9 250.2V244.2"/>
<path d="M107.4 250.2V244.2"/>
<path d="M91.0 250.2V244.2"/>
<path d="M74.6 250.2V244.2"/>
<path d="M58.1 250.2V244.2"/>
<path d="M189.6 250.2V244.2"/>
<path d="M206.1 250.2V244.2"/>
<path d="M222.5 250.2V244.2"/>
<path d="M239.0 250.2V244.2"/>
<path d="M255.4 250.2V244.2"/>
<path d="M271.8 250.2V244.2"/>
<path d="M288.3 250.2V244.2"/>
<path d="M304.7 250.2V244.2"/>
<path d="M321.2 250.2V244.2"/>
<path d="M337.6 250.2V244.2"/>
<path d="M354.0 250.2V244.2"/>
<path d="M370.5 250.2V244.2"/>
<path d="M49.9 42.8H56.9"/>
<path d="M49.9 133.6H56.9"/>
<path d="M49.9 224.8H56.9"/>
</g>
<g font-family='"Liberation Sans", sans-serif' font-size="10.5" fill="#000" stroke="#000" stroke-width="0.22">
<text x="44.5" y="46.3" text-anchor="end">30</text>
<text x="44.5" y="137.3" text-anchor="end">0</text>
<text x="44.5" y="228.6" text-anchor="end">-30</text>
<text x="173.5" y="262.7" text-anchor="middle">180</text>
<text x="336.6" y="262.7" text-anchor="middle">270</text>
</g>
<text x="48" y="14.3" font-family='"Liberation Sans", sans-serif' font-weight="bold" font-size="16.6">(a)</text>
<text x="48" y="323.3" font-family='"Liberation Sans", sans-serif' font-weight="bold" font-size="16.6">(b)</text>
<rect x="58.40" y="268.3" width="19.74" height="9.800000000000011" fill="#000000"/>
<rect x="77.84" y="268.3" width="19.74" height="9.800000000000011" fill="#0808a0"/>
<rect x="97.28" y="268.3" width="19.74" height="9.800000000000011" fill="#0a0aff"/>
<rect x="116.71" y="268.3" width="19.74" height="9.800000000000011" fill="#0a36c8"/>
<rect x="136.15" y="268.3" width="19.74" height="9.800000000000011" fill="#0a55f5"/>
<rect x="155.59" y="268.3" width="19.74" height="9.800000000000011" fill="#1a90f0"/>
<rect x="175.03" y="268.3" width="19.74" height="9.800000000000011" fill="#2cbff6"/>
<rect x="194.46" y="268.3" width="19.74" height="9.800000000000011" fill="#90e8f8"/>
<rect x="213.90" y="268.3" width="19.74" height="9.800000000000011" fill="#ffffff"/>
<rect x="233.34" y="268.3" width="19.74" height="9.800000000000011" fill="#f5f5aa"/>
<rect x="252.78" y="268.3" width="19.74" height="9.800000000000011" fill="#f2f27a"/>
<rect x="272.21" y="268.3" width="19.74" height="9.800000000000011" fill="#f8d440"/>
<rect x="291.65" y="268.3" width="19.74" height="9.800000000000011" fill="#f8aa14"/>
<rect x="311.09" y="268.3" width="19.74" height="9.800000000000011" fill="#f89028"/>
<rect x="330.52" y="268.3" width="19.74" height="9.800000000000011" fill="#f87020"/>
<rect x="349.96" y="268.3" width="19.74" height="9.800000000000011" fill="#f84c24"/>
<g stroke="#333" stroke-width="0.8" stroke-dasharray="1 1.2">
<path d="M77.84 268.3V278.1"/>
<path d="M97.28 268.3V278.1"/>
<path d="M116.71 268.3V278.1"/>
<path d="M136.15 268.3V278.1"/>
<path d="M155.59 268.3V278.1"/>
<path d="M175.03 268.3V278.1"/>
<path d="M194.46 268.3V278.1"/>
<path d="M213.90 268.3V278.1"/>
<path d="M233.34 268.3V278.1"/>
<path d="M252.78 268.3V278.1"/>
<path d="M272.21 268.3V278.1"/>
<path d="M291.65 268.3V278.1"/>
<path d="M311.09 268.3V278.1"/>
<path d="M330.52 268.3V278.1"/>
<path d="M349.96 268.3V278.1"/>
</g>
<rect x="58.4" y="268.3" width="311.0" height="9.800000000000011" fill="none" stroke="#000" stroke-width="1.1"/>
<g font-family='"Liberation Sans", sans-serif' font-size="11.5" fill="#000" stroke="#000" stroke-width="0.22" text-anchor="middle">
<text x="77.8" y="289.8">0</text>
<text x="97.3" y="289.8">2</text>
<text x="116.7" y="289.8">4</text>
<text x="136.2" y="289.8">6</text>
<text x="155.6" y="289.8">8</text>
<text x="175.0" y="289.8">10</text>
<text x="194.5" y="289.8">12</text>
<text x="213.9" y="289.8">14</text>
<text x="233.3" y="289.8">16</text>
<text x="252.8" y="289.8">18</text>
<text x="272.2" y="289.8">20</text>
<text x="291.6" y="289.8">22</text>
<text x="311.1" y="289.8">24</text>
<text x="330.5" y="289.8">26</text>
<text x="350.0" y="289.8">28</text>
</g>
<g clip-path="url(#cb)">
<rect x="85" y="329" width="250" height="232" fill="#2cbcf4"/>
<path d="M297 560C297.5 559.5 298.5 557.9 300 557C301.5 556.1 304 555.2 306 554.6C308 554 309.9 553.4 311.9 553.6C313.9 553.8 316.4 554.9 317.9 555.6C319.4 556.3 320.3 557.3 321 558C321.7 558.7 321.8 559.7 322 560Z" fill="#1a8ef0"/>
<path d="M101 545L104 550.5L108.5 559L101 559Z" fill="#1a8ef0"/>
<path d="M95 325L95 509L101.4 509L101.4 509C102.5 510.3 105.9 515.1 108 516.7C110.1 518.3 111.7 519 114 518.7C116.3 518.4 119.3 515.8 122 514.7C124.7 513.6 127.3 513.4 130 512.3C132.7 511.1 135.7 508.4 138 507.8C140.3 507.2 141.7 508.3 144 508.8C146.3 509.3 149.3 509.9 152 510.8C154.7 511.7 157.2 513.1 160 514C162.8 514.9 165.7 517 169 516.1C172.3 515.2 176.5 511.3 180 508.8C183.5 506.3 187 503.3 190 501C193 498.7 194.7 496.5 198 494.8C201.3 493.1 206.3 491.5 210 490.8C213.7 490.1 217 491.3 220 490.8C223 490.3 225.1 489.3 228 487.8C230.9 486.3 234.8 482.2 237.5 481.9C240.2 481.6 241.9 484.8 244 485.8C246.1 486.8 247.7 487.7 250 487.8C252.3 487.9 256 486.3 258 486.2C260 486.1 260.3 487.5 262 487.4C263.7 487.3 266 485.2 268 485.8C270 486.4 272 489.5 274 490.8C276 492.1 278 492.4 280 493.4C282 494.4 284 496.1 286 496.8C288 497.5 289.3 497.1 292 497.8C294.7 498.5 299 500.6 302 500.8C305 501 307.4 498.6 310 498.8C312.6 499 315.5 500.8 317.9 501.8C320.3 502.8 323.3 504.3 324.4 504.8L328.4 504.8L328.4 325Z" fill="#90e8f8"/>
<path d="M95 325L95 483L101.4 483L101.4 483C102.5 484.1 105.9 488.2 108 489.8C110.1 491.4 111.7 493 114 492.8C116.3 492.6 119.3 490 122 488.8C124.7 487.6 127 487.3 130 485.8C133 484.3 136.7 481.2 140 480C143.3 478.8 146.7 478.5 150 478.3C153.3 478.1 156.7 478.5 160 478.9C163.3 479.3 166.7 481.4 170 480.9C173.3 480.4 176.7 478.1 180 475.9C183.3 473.7 186.7 470.1 190 467.9C193.3 465.7 196.7 464.5 200 462.5C203.3 460.5 206.7 457.5 210 455.9C213.3 454.3 217 454.3 220 453C223 451.7 225.3 449.9 228 448C230.7 446.1 234 442.8 236 441.5C238 440.2 237.7 441.4 240 440.5C242.3 439.6 246.6 438 249.9 435.9C253.2 433.8 256.4 430.7 259.7 428.1C262.9 425.5 266 422.2 269.4 420.3C272.8 418.4 276.9 418.1 280 417C283.1 415.9 285.2 414.9 287.8 413.5C290.4 412.1 293.2 409.3 295.5 408.7C297.8 408.1 299 409.6 301.4 409.6C303.8 409.6 308 408.9 309.9 408.7C311.8 408.5 311.7 407.6 312.8 408.7C313.9 409.8 315.4 411.8 316.7 415.5C318 419.2 319.5 426.9 320.5 431C321.5 435.1 321.9 437.5 322.5 440C323.1 442.5 324.1 445 324.4 446L328.4 446L328.4 325Z" fill="#f1f9f6"/>
<path d="M95 325L95 464L101.4 464L101.4 464C102.8 465.1 106.9 469.5 110 470.5C113.1 471.5 116.7 470.8 120 470C123.3 469.2 126 467.7 130 466C134 464.3 139 461 144 460C149 459 155.3 460 160 460C164.7 460 168.3 460.7 172 460C175.7 459.3 179 457.5 182 456C185 454.5 186.7 452.9 190 451C193.3 449.1 198.8 445.8 202 444.5C205.2 443.2 206.5 444.2 209.3 443.3C212.1 442.4 215.2 441.4 218.6 439.4C222 437.3 226.2 433.5 229.7 431C233.2 428.5 236 426.3 239.4 424.2C242.8 422.1 246.6 420.5 250 418.4C253.4 416.3 256.5 414.2 259.7 411.6C262.9 409 266 405.2 269.4 402.8C272.8 400.4 277.6 398.5 280 397C282.4 395.5 282.4 395 284 393.7C285.6 392.4 287 390.7 289.7 389C292.4 387.3 297.4 384.8 300 383.6C302.6 382.4 303.2 382.6 305 381.8C306.8 381 308.9 379.5 310.8 378.6C312.8 377.7 315.1 376.8 316.7 376.6C318.3 376.4 319.2 377 320.5 377.6C321.8 378.2 323.8 380 324.4 380.5L328.4 380.5L328.4 325Z" fill="#f5f5aa"/>
<path d="M95 325L95 448.5L101.4 448.5L101.4 448.5C102.8 449.4 106.9 453.1 110 454C113.1 454.9 116.7 454.3 120 454C123.3 453.7 126 453.3 130 452C134 450.7 139 447.1 144 446C149 444.9 155.3 445.7 160 445.5C164.7 445.3 168.3 445.6 172 445C175.7 444.4 179 442.9 182 442C185 441.1 187.2 440.7 190 439.5C192.8 438.3 196.2 436.1 198.5 435C200.8 433.9 201.8 433.8 204 432.7C206.2 431.6 209.3 429.8 212 428.5C214.7 427.2 217.1 426.6 220 425.1C222.9 423.6 226.5 421.6 229.7 419.5C232.9 417.4 237 414.1 239.4 412.5C241.8 410.9 242.2 410.9 244 409.8C245.8 408.7 247.3 407.9 250 406C252.7 404.1 256.8 401.3 260 398.6C263.2 395.9 266.1 392.6 269.4 390C272.7 387.4 277.6 384.6 280 383C282.4 381.4 282.4 381.5 284 380.5C285.6 379.5 287 378.7 289.7 377C292.4 375.3 297.4 372 300 370.4C302.6 368.8 302.6 368.9 305 367.5C307.4 366.1 311.5 363.9 314.7 362C317.9 360.1 322.8 357.2 324.4 356.2L328.4 356.2L328.4 325Z" fill="#f2f27a"/>
<path d="M95 325L95 429.5L101.4 429.5L101.4 429.5C103.1 430.6 108.1 434.3 111.7 436C115.3 437.7 120.2 439 123.3 439.5C126.3 440 127.3 439.4 130 438.8C132.7 438.2 134.7 436.6 139.7 436C144.7 435.4 155 435.7 160 435.3C165 434.9 166.5 433.8 169.7 433.9C172.9 434 176.8 436.2 179.4 435.9C182 435.6 183.2 433.1 185 432C186.8 430.9 187.8 430.2 190 429C192.2 427.8 196.2 426.1 198.5 425C200.8 423.9 201.8 423.7 204 422.6C206.2 421.5 209.3 419.8 212 418.5C214.7 417.2 217.1 416.8 220 415C222.9 413.2 226.5 410.3 229.7 408C232.9 405.7 237 402.7 239.4 401C241.8 399.3 242.2 398.8 244 397.6C245.8 396.4 247.3 395.5 250 394C252.7 392.5 256.8 391 260 388.5C263.2 386 266.1 381.9 269.4 379C272.7 376.1 277.6 372.8 280 371C282.4 369.2 282.4 369.6 284 368.4C285.6 367.2 287 365.7 289.7 364C292.4 362.3 297.4 359.5 300 358.2C302.6 356.9 302.6 357.1 305 356C307.4 354.9 311.5 353.1 314.7 351.5C317.9 349.9 322.8 347.3 324.4 346.5L328.4 346.5L328.4 325Z" fill="#f8d440"/>
<path d="M95 325L95 415.5L101.4 415.5L101.4 415.5C103.1 416.4 108.1 419.6 111.7 421C115.3 422.4 120.2 423.6 123.3 424.2C126.3 424.8 127.3 424.5 130 424.5C132.7 424.5 134.7 424.4 139.7 424.2C144.7 423.9 155 423.5 160 423C165 422.5 166.5 421.1 169.7 421.3C172.9 421.5 176 424.1 179.4 424C182.8 423.9 186.7 422.4 189.9 421C193.1 419.6 196.2 416.9 198.5 415.5C200.8 414.1 201.8 414.1 204 412.9C206.2 411.7 209.3 409.9 212 408.5C214.7 407.1 217.1 406.1 220 404.3C222.9 402.5 226.5 400 229.7 397.5C232.9 395 237 391.5 239.4 389.5C241.8 387.5 242.2 386.8 244 385.5C245.8 384.2 247.3 383.6 250 382C252.7 380.4 256.8 378.2 260 375.8C263.2 373.4 266.1 370.5 269.4 367.5C272.7 364.5 277.6 360.1 280 358C282.4 355.9 281.7 356.6 284 355.2C286.3 353.8 290.9 350.8 293.6 349.3C296.3 347.8 298.1 347 300 346.1C301.9 345.2 302.6 345.1 305 344C307.4 342.9 311.5 340.9 314.7 339.7C317.9 338.5 322.8 337.3 324.4 336.8L328.4 336.8L328.4 325Z" fill="#f8aa14"/>
<path d="M95 325L95 403L101.4 403L101.4 403C103.1 403.8 108.7 406.6 111.7 407.7C114.7 408.8 116.4 408.9 119.4 409.6C122.5 410.3 125.7 411.5 130 412C134.3 412.5 140 412.5 145 412.6C150 412.7 155.9 412.9 160 412.6C164.1 412.3 166.5 410.5 169.7 410.6C172.9 410.7 176 413.4 179.4 413.3C182.8 413.2 186.7 411.6 189.9 410.3C193.1 409.1 195.7 407.3 198.5 405.8C201.3 404.3 204.2 403 207 401.5C209.8 400 212.8 398.4 215 397C217.2 395.6 217.6 394.9 220 393.1C222.4 391.3 226.5 389.1 229.7 386.3C232.9 383.5 237 378.8 239.4 376.2C241.8 373.6 242.2 372.6 244 370.8C245.8 369 247.3 367.8 250 365.3C252.7 362.8 256.8 359.1 260 356C263.2 352.9 266.1 349.9 269.4 346.5C272.7 343.1 277.3 338.2 280 335.8C282.7 333.4 284.2 333 285.8 331.9C287.4 330.8 289.1 329.5 289.7 329L292 325Z" fill="#f89028"/>
<path d="M95 325L95 390.5L101.4 390.5L101.4 390.5C102.8 391.2 106.7 394.1 109.7 395C112.7 395.9 116 395.6 119.4 396C122.8 396.4 125.7 397.1 130 397.5C134.3 397.9 140 398.2 145 398.5C150 398.8 156.2 399.1 160 399C163.8 398.9 165.1 397.8 167.8 398C170.6 398.2 173.6 400.6 176.5 400.5C179.4 400.4 182.8 398.5 185 397.7C187.2 396.9 187.8 396.7 190 395.5C192.2 394.3 195.7 392.2 198.5 390.3C201.3 388.4 204.2 386.2 207 384C209.8 381.8 212.8 379.4 215 377C217.2 374.6 217.9 372.5 220 369.5C222.1 366.5 225.4 362.8 227.8 359.1C230.2 355.4 232.7 351.9 234.6 347.5C236.5 343.1 238.5 336.1 239.4 333C240.3 329.9 239.9 329.7 240 329L242 325Z" fill="#f87020"/>
<path d="M95 325L95 375.6L101.4 375.6L101.4 375.6C102.2 376.2 104.5 378.8 106.3 379.2C108.1 379.6 109.7 377.9 112 377.8C114.3 377.7 117 378.1 120 378.5C123 378.9 126.7 379.9 130 380.3C133.3 380.7 136.5 380.8 139.7 380.9C142.9 381 146 381.2 149.4 380.9C152.8 380.5 156.9 380.2 160 378.8C163.1 377.4 165.4 373.9 167.8 372.7C170.2 371.5 172.7 372.8 174.6 371.8C176.5 370.8 177.8 369.6 179.4 366.9C181 364.1 183 359.2 184.3 355.3C185.6 351.4 186.4 347.2 187.2 343.6C188 340 188.6 336.3 189.1 333.9C189.6 331.5 189.8 329.8 189.9 329L192 325Z" fill="#f84c24"/>
<rect x="86" y="330.5" width="8" height="36" fill="#f84c24"/>
<rect x="86" y="365.5" width="8" height="16.5" fill="#f87020"/>
<rect x="86" y="381.0" width="8" height="12.5" fill="#f89028"/>
<rect x="86" y="392.5" width="8" height="12" fill="#f8aa14"/>
<rect x="86" y="403.5" width="8" height="12.5" fill="#f8d440"/>
<rect x="86" y="415.0" width="8" height="14.5" fill="#f2f27a"/>
<rect x="86" y="428.5" width="8" height="18" fill="#f5f5aa"/>
<rect x="86" y="445.5" width="8" height="24" fill="#f1f9f6"/>
<rect x="86" y="468.5" width="8" height="28" fill="#90e8f8"/>
<rect x="86" y="495.5" width="8" height="38" fill="#2cbcf4"/>
<rect x="86" y="532.5" width="8" height="26" fill="#1a8ef0"/>
<rect x="327" y="330.5" width="7" height="5.800000000000011" fill="#f89028"/>
<rect x="327" y="335.3" width="7" height="4.899999999999977" fill="#f8aa14"/>
<rect x="327" y="339.2" width="7" height="6.800000000000011" fill="#f8d440"/>
<rect x="327" y="345.0" width="7" height="11.5" fill="#f2f27a"/>
<rect x="327" y="355.5" width="7" height="29.399999999999977" fill="#f5f5aa"/>
<rect x="327" y="383.9" width="7" height="63.60000000000002" fill="#f1f9f6"/>
<rect x="327" y="446.5" width="7" height="60.80000000000001" fill="#90e8f8"/>
<rect x="327" y="506.3" width="7" height="52.19999999999999" fill="#2cbcf4"/>
<g fill="none" stroke="#000" stroke-width="1.15" stroke-linejoin="round">
<path d="M101.4 375.6C102.2 376.2 104.5 378.8 106.3 379.2C108.1 379.6 109.7 377.9 112 377.8C114.3 377.7 117 378.1 120 378.5C123 378.9 126.7 379.9 130 380.3C133.3 380.7 136.5 380.8 139.7 380.9C142.9 381 146 381.2 149.4 380.9C152.8 380.5 156.9 380.2 160 378.8C163.1 377.4 165.4 373.9 167.8 372.7C170.2 371.5 172.7 372.8 174.6 371.8C176.5 370.8 177.8 369.6 179.4 366.9C181 364.1 183 359.2 184.3 355.3C185.6 351.4 186.4 347.2 187.2 343.6C188 340 188.6 336.3 189.1 333.9C189.6 331.5 189.8 329.8 189.9 329"/>
<path d="M101.4 390.5C102.8 391.2 106.7 394.1 109.7 395C112.7 395.9 116 395.6 119.4 396C122.8 396.4 125.7 397.1 130 397.5C134.3 397.9 140 398.2 145 398.5C150 398.8 156.2 399.1 160 399C163.8 398.9 165.1 397.8 167.8 398C170.6 398.2 173.6 400.6 176.5 400.5C179.4 400.4 182.8 398.5 185 397.7C187.2 396.9 187.8 396.7 190 395.5C192.2 394.3 195.7 392.2 198.5 390.3C201.3 388.4 204.2 386.2 207 384C209.8 381.8 212.8 379.4 215 377C217.2 374.6 217.9 372.5 220 369.5C222.1 366.5 225.4 362.8 227.8 359.1C230.2 355.4 232.7 351.9 234.6 347.5C236.5 343.1 238.5 336.1 239.4 333C240.3 329.9 239.9 329.7 240 329"/>
<path d="M101.4 403C103.1 403.8 108.7 406.6 111.7 407.7C114.7 408.8 116.4 408.9 119.4 409.6C122.5 410.3 125.7 411.5 130 412C134.3 412.5 140 412.5 145 412.6C150 412.7 155.9 412.9 160 412.6C164.1 412.3 166.5 410.5 169.7 410.6C172.9 410.7 176 413.4 179.4 413.3C182.8 413.2 186.7 411.6 189.9 410.3C193.1 409.1 195.7 407.3 198.5 405.8C201.3 404.3 204.2 403 207 401.5C209.8 400 212.8 398.4 215 397C217.2 395.6 217.6 394.9 220 393.1C222.4 391.3 226.5 389.1 229.7 386.3C232.9 383.5 237 378.8 239.4 376.2C241.8 373.6 242.2 372.6 244 370.8C245.8 369 247.3 367.8 250 365.3C252.7 362.8 256.8 359.1 260 356C263.2 352.9 266.1 349.9 269.4 346.5C272.7 343.1 277.3 338.2 280 335.8C282.7 333.4 284.2 333 285.8 331.9C287.4 330.8 289.1 329.5 289.7 329"/>
<path d="M101.4 415.5C103.1 416.4 108.1 419.6 111.7 421C115.3 422.4 120.2 423.6 123.3 424.2C126.3 424.8 127.3 424.5 130 424.5C132.7 424.5 134.7 424.4 139.7 424.2C144.7 423.9 155 423.5 160 423C165 422.5 166.5 421.1 169.7 421.3C172.9 421.5 176 424.1 179.4 424C182.8 423.9 186.7 422.4 189.9 421C193.1 419.6 196.2 416.9 198.5 415.5C200.8 414.1 201.8 414.1 204 412.9C206.2 411.7 209.3 409.9 212 408.5C214.7 407.1 217.1 406.1 220 404.3C222.9 402.5 226.5 400 229.7 397.5C232.9 395 237 391.5 239.4 389.5C241.8 387.5 242.2 386.8 244 385.5C245.8 384.2 247.3 383.6 250 382C252.7 380.4 256.8 378.2 260 375.8C263.2 373.4 266.1 370.5 269.4 367.5C272.7 364.5 277.6 360.1 280 358C282.4 355.9 281.7 356.6 284 355.2C286.3 353.8 290.9 350.8 293.6 349.3C296.3 347.8 298.1 347 300 346.1C301.9 345.2 302.6 345.1 305 344C307.4 342.9 311.5 340.9 314.7 339.7C317.9 338.5 322.8 337.3 324.4 336.8"/>
<path d="M101.4 429.5C103.1 430.6 108.1 434.3 111.7 436C115.3 437.7 120.2 439 123.3 439.5C126.3 440 127.3 439.4 130 438.8C132.7 438.2 134.7 436.6 139.7 436C144.7 435.4 155 435.7 160 435.3C165 434.9 166.5 433.8 169.7 433.9C172.9 434 176.8 436.2 179.4 435.9C182 435.6 183.2 433.1 185 432C186.8 430.9 187.8 430.2 190 429C192.2 427.8 196.2 426.1 198.5 425C200.8 423.9 201.8 423.7 204 422.6C206.2 421.5 209.3 419.8 212 418.5C214.7 417.2 217.1 416.8 220 415C222.9 413.2 226.5 410.3 229.7 408C232.9 405.7 237 402.7 239.4 401C241.8 399.3 242.2 398.8 244 397.6C245.8 396.4 247.3 395.5 250 394C252.7 392.5 256.8 391 260 388.5C263.2 386 266.1 381.9 269.4 379C272.7 376.1 277.6 372.8 280 371C282.4 369.2 282.4 369.6 284 368.4C285.6 367.2 287 365.7 289.7 364C292.4 362.3 297.4 359.5 300 358.2C302.6 356.9 302.6 357.1 305 356C307.4 354.9 311.5 353.1 314.7 351.5C317.9 349.9 322.8 347.3 324.4 346.5"/>
<path d="M101.4 448.5C102.8 449.4 106.9 453.1 110 454C113.1 454.9 116.7 454.3 120 454C123.3 453.7 126 453.3 130 452C134 450.7 139 447.1 144 446C149 444.9 155.3 445.7 160 445.5C164.7 445.3 168.3 445.6 172 445C175.7 444.4 179 442.9 182 442C185 441.1 187.2 440.7 190 439.5C192.8 438.3 196.2 436.1 198.5 435C200.8 433.9 201.8 433.8 204 432.7C206.2 431.6 209.3 429.8 212 428.5C214.7 427.2 217.1 426.6 220 425.1C222.9 423.6 226.5 421.6 229.7 419.5C232.9 417.4 237 414.1 239.4 412.5C241.8 410.9 242.2 410.9 244 409.8C245.8 408.7 247.3 407.9 250 406C252.7 404.1 256.8 401.3 260 398.6C263.2 395.9 266.1 392.6 269.4 390C272.7 387.4 277.6 384.6 280 383C282.4 381.4 282.4 381.5 284 380.5C285.6 379.5 287 378.7 289.7 377C292.4 375.3 297.4 372 300 370.4C302.6 368.8 302.6 368.9 305 367.5C307.4 366.1 311.5 363.9 314.7 362C317.9 360.1 322.8 357.2 324.4 356.2"/>
<path d="M101.4 464C102.8 465.1 106.9 469.5 110 470.5C113.1 471.5 116.7 470.8 120 470C123.3 469.2 126 467.7 130 466C134 464.3 139 461 144 460C149 459 155.3 460 160 460C164.7 460 168.3 460.7 172 460C175.7 459.3 179 457.5 182 456C185 454.5 186.7 452.9 190 451C193.3 449.1 198.8 445.8 202 444.5C205.2 443.2 206.5 444.2 209.3 443.3C212.1 442.4 215.2 441.4 218.6 439.4C222 437.3 226.2 433.5 229.7 431C233.2 428.5 236 426.3 239.4 424.2C242.8 422.1 246.6 420.5 250 418.4C253.4 416.3 256.5 414.2 259.7 411.6C262.9 409 266 405.2 269.4 402.8C272.8 400.4 277.6 398.5 280 397C282.4 395.5 282.4 395 284 393.7C285.6 392.4 287 390.7 289.7 389C292.4 387.3 297.4 384.8 300 383.6C302.6 382.4 303.2 382.6 305 381.8C306.8 381 308.9 379.5 310.8 378.6C312.8 377.7 315.1 376.8 316.7 376.6C318.3 376.4 319.2 377 320.5 377.6C321.8 378.2 323.8 380 324.4 380.5"/>
<path d="M101.4 483C102.5 484.1 105.9 488.2 108 489.8C110.1 491.4 111.7 493 114 492.8C116.3 492.6 119.3 490 122 488.8C124.7 487.6 127 487.3 130 485.8C133 484.3 136.7 481.2 140 480C143.3 478.8 146.7 478.5 150 478.3C153.3 478.1 156.7 478.5 160 478.9C163.3 479.3 166.7 481.4 170 480.9C173.3 480.4 176.7 478.1 180 475.9C183.3 473.7 186.7 470.1 190 467.9C193.3 465.7 196.7 464.5 200 462.5C203.3 460.5 206.7 457.5 210 455.9C213.3 454.3 217 454.3 220 453C223 451.7 225.3 449.9 228 448C230.7 446.1 234 442.8 236 441.5C238 440.2 237.7 441.4 240 440.5C242.3 439.6 246.6 438 249.9 435.9C253.2 433.8 256.4 430.7 259.7 428.1C262.9 425.5 266 422.2 269.4 420.3C272.8 418.4 276.9 418.1 280 417C283.1 415.9 285.2 414.9 287.8 413.5C290.4 412.1 293.2 409.3 295.5 408.7C297.8 408.1 299 409.6 301.4 409.6C303.8 409.6 308 408.9 309.9 408.7C311.8 408.5 311.7 407.6 312.8 408.7C313.9 409.8 315.4 411.8 316.7 415.5C318 419.2 319.5 426.9 320.5 431C321.5 435.1 321.9 437.5 322.5 440C323.1 442.5 324.1 445 324.4 446"/>
<path d="M101.4 509C102.5 510.3 105.9 515.1 108 516.7C110.1 518.3 111.7 519 114 518.7C116.3 518.4 119.3 515.8 122 514.7C124.7 513.6 127.3 513.4 130 512.3C132.7 511.1 135.7 508.4 138 507.8C140.3 507.2 141.7 508.3 144 508.8C146.3 509.3 149.3 509.9 152 510.8C154.7 511.7 157.2 513.1 160 514C162.8 514.9 165.7 517 169 516.1C172.3 515.2 176.5 511.3 180 508.8C183.5 506.3 187 503.3 190 501C193 498.7 194.7 496.5 198 494.8C201.3 493.1 206.3 491.5 210 490.8C213.7 490.1 217 491.3 220 490.8C223 490.3 225.1 489.3 228 487.8C230.9 486.3 234.8 482.2 237.5 481.9C240.2 481.6 241.9 484.8 244 485.8C246.1 486.8 247.7 487.7 250 487.8C252.3 487.9 256 486.3 258 486.2C260 486.1 260.3 487.5 262 487.4C263.7 487.3 266 485.2 268 485.8C270 486.4 272 489.5 274 490.8C276 492.1 278 492.4 280 493.4C282 494.4 284 496.1 286 496.8C288 497.5 289.3 497.1 292 497.8C294.7 498.5 299 500.6 302 500.8C305 501 307.4 498.6 310 498.8C312.6 499 315.5 500.8 317.9 501.8C320.3 502.8 323.3 504.3 324.4 504.8"/>
<path d="M297 560C297.5 559.5 298.5 557.9 300 557C301.5 556.1 304 555.2 306 554.6C308 554 309.9 553.4 311.9 553.6C313.9 553.8 316.4 554.9 317.9 555.6C319.4 556.3 320.3 557.3 321 558C321.7 558.7 321.8 559.7 322 560"/>
<path d="M101.5 545.5L104 550.5L108.5 559"/>
<path d="M86 366H93"/>
<path d="M86 381.5H93"/>
<path d="M86 393H93"/>
<path d="M86 404H93"/>
<path d="M86 415.5H93"/>
<path d="M86 429H93"/>
<path d="M86 446H93"/>
<path d="M86 469H93"/>
<path d="M86 496H93"/>
<path d="M86 533H93"/>
<path d="M328 335.8H334"/>
<path d="M328 339.7H334"/>
<path d="M328 345.5H334"/>
<path d="M328 356H334"/>
<path d="M328 384.4H334"/>
<path d="M328 447H334"/>
<path d="M328 506.8H334"/>
</g>
<rect x="92.7" y="330" width="4.2" height="230" fill="#000"/>
<path d="M97.6 560L97.7 350L99.5 343.3L101.6 350L101.8 560Z" fill="#000"/>
<rect x="324.2" y="330" width="4.2" height="230" fill="#000"/>
</g>
<rect x="49.8" y="331.6" width="328.2" height="226.5" fill="none" stroke="#000" stroke-width="1.4"/>
<g stroke="#000" stroke-width="1.1">
<path d="M49.8 358.1H54.8"/>
<path d="M49.8 389.0H58.8"/>
<path d="M49.8 419.9H54.8"/>
<path d="M49.8 450.8H58.8"/>
<path d="M49.8 481.6H54.8"/>
<path d="M49.8 512.5H58.8"/>
<path d="M49.8 543.4H54.8"/>
<path d="M82.8 558.1V552.6"/>
<path d="M70.5 558.1V552.6"/>
<path d="M58.2 558.1V552.6"/>
<path d="M95.0 558.1V552.6"/>
<path d="M107.3 558.1V552.6"/>
<path d="M119.6 558.1V552.6"/>
<path d="M131.9 558.1V552.6"/>
<path d="M144.2 558.1V552.6"/>
<path d="M156.4 558.1V552.6"/>
<path d="M168.7 558.1V552.6"/>
<path d="M181.0 558.1V552.6"/>
<path d="M193.3 558.1V552.6"/>
<path d="M205.6 558.1V552.6"/>
<path d="M217.8 558.1V552.6"/>
<path d="M230.1 558.1V552.6"/>
<path d="M242.4 558.1V552.6"/>
<path d="M254.7 558.1V552.6"/>
<path d="M267.0 558.1V552.6"/>
<path d="M279.2 558.1V552.6"/>
<path d="M291.5 558.1V552.6"/>
<path d="M303.8 558.1V552.6"/>
<path d="M316.1 558.1V552.6"/>
<path d="M328.4 558.1V552.6"/>
<path d="M340.7 558.1V552.6"/>
<path d="M352.9 558.1V552.6"/>
<path d="M365.2 558.1V552.6"/>
</g>
<g font-family='"Liberation Sans", sans-serif' font-size="11" fill="#000" stroke="#000" stroke-width="0.22">
<text x="45" y="392.7" text-anchor="end">-100</text>
<text x="45" y="454.5" text-anchor="end">-200</text>
<text x="45" y="516.3" text-anchor="end">-300</text>
<text x="82.8" y="571.2" text-anchor="middle">120</text>
<text x="131.9" y="571.2" text-anchor="middle">150</text>
<text x="181.0" y="571.2" text-anchor="middle">180</text>
<text x="230.1" y="571.2" text-anchor="middle">210</text>
<text x="279.2" y="571.2" text-anchor="middle">240</text>
<text x="328.4" y="571.2" text-anchor="middle">270</text>
<text x="377.5" y="571.2" text-anchor="middle">300</text>
</g>
<text x="222.6" y="588.5" font-family='"Liberation Sans", sans-serif' font-size="14.9" stroke="#000" stroke-width="0.2" text-anchor="middle">Longitude</text>
<text transform="translate(12.9 444.4) rotate(-90)" font-family='"Liberation Sans", sans-serif' font-size="14.5" stroke="#000" stroke-width="0.2" text-anchor="middle">Depth</text>
</svg></body></html>
